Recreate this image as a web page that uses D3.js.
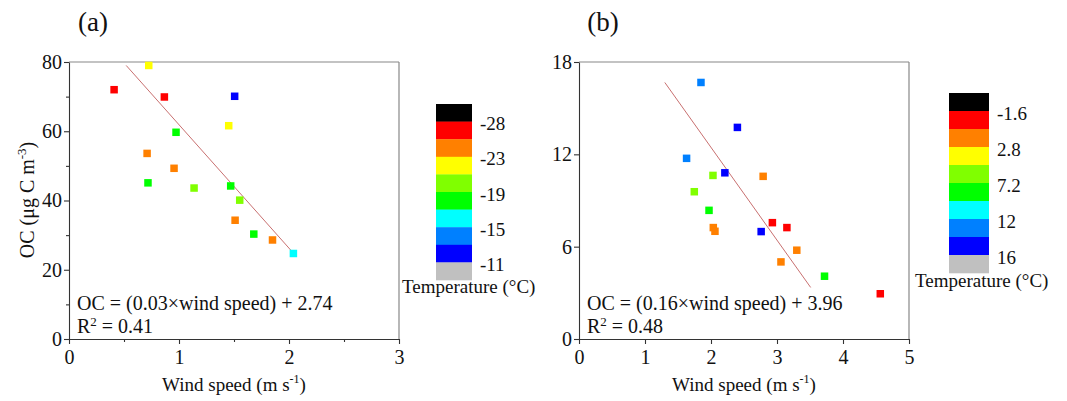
<!DOCTYPE html>
<html><head><meta charset="utf-8">
<script src="https://cdn.jsdelivr.net/npm/d3@7"></script>
<style>body{margin:0;background:#fff}svg{display:block}text{font-family:"Liberation Serif","Times New Roman",serif;fill:#111}</style>
</head><body>
<svg id="c" width="1067" height="401"></svg>
<script>
const legendColors = ["#000000","#ff0000","#ff8000","#ffff00","#80ff00","#00ff00","#00ffff","#0080ff","#0000ff","#c0c0c0"];
const tempLabelsA = ["-28","-23","-19","-15","-11"];
const tempLabelsB = ["-1.6","2.8","7.2","12","16"];

const windA = [0.725,0.41,0.867,1.506,1.452,0.973,0.71,0.955,0.718,1.137,1.47,1.552,1.51,1.68,1.85,2.04];
const ocA   = [79.0,72.0,69.9,70.1,61.6,59.7,53.6,49.3,45.1,43.6,44.2,40.1,34.3,30.3,28.6,24.7];
const binA  = [3,1,1,8,3,5,2,2,5,4,5,4,2,5,2,6];
const fitWindA = [0.52,2.015], fitOcA = [79.0,25.7];
const xTicksA = [0,1,2,3], xMinorA = [0.5,1.5,2.5];
const yTicksA = [0,20,40,60,80], yMinorA = [10,30,50,70];

const windB = [1.848,2.40,1.63,2.21,2.03,2.79,1.747,1.97,2.93,3.15,2.76,2.035,2.06,3.30,3.06,3.72,4.565];
const ocB   = [16.67,13.75,11.74,10.80,10.63,10.57,9.57,8.36,7.56,7.24,6.98,7.24,7.0,5.77,5.01,4.08,2.94];
const binB  = [7,8,7,8,4,2,4,5,1,1,8,2,2,2,2,5,1];
const fitWindB = [1.30,3.51], fitOcB = [16.67,3.35];
const xTicksB = [0,1,2,3,4,5];
const yTicksB = [0,6,12,18];

const svg = d3.select("#c");

function panel(o){
  const x = d3.scaleLinear().domain(o.xd).range([o.l,o.r]);
  const y = d3.scaleLinear().domain(o.yd).range([o.b,o.t]);
  const g = svg.append("g");
  g.append("line").attr("x1",o.l).attr("x2",o.r).attr("y1",o.t).attr("y2",o.t).attr("stroke","#888").attr("stroke-width",1.2);
  g.append("line").attr("x1",o.r).attr("x2",o.r).attr("y1",o.t).attr("y2",o.b).attr("stroke","#888").attr("stroke-width",1.2);
  const ax = g.append("g").attr("transform",`translate(0,${o.b})`)
    .call(d3.axisBottom(x).tickValues(o.xt).tickSize(5).tickSizeOuter(0).tickPadding(4).tickFormat(d3.format("d")));
  if(o.xm) g.append("g").attr("transform",`translate(0,${o.b})`).call(d3.axisBottom(x).tickValues(o.xm).tickSize(3).tickFormat("")).select(".domain").remove();
  g.append("g").attr("transform",`translate(${o.l},0)`)
    .call(d3.axisLeft(y).tickValues(o.yt).tickSize(5).tickSizeOuter(0).tickPadding(2).tickFormat(d3.format("d")));
  if(o.ym) g.append("g").attr("transform",`translate(${o.l},0)`).call(d3.axisLeft(y).tickValues(o.ym).tickSize(3).tickFormat("")).select(".domain").remove();
  g.selectAll(".tick line,.domain").attr("stroke","#333").attr("stroke-width",1.1);
  g.selectAll(".tick text").attr("font-size",20).attr("fill","#111").style("font-family","Liberation Serif");
  ax.selectAll(".tick text").attr("dy","0.8em");
  g.append("line").attr("x1",x(o.fx[0])).attr("y1",y(o.fy[0])).attr("x2",x(o.fx[1])).attr("y2",y(o.fy[1]))
    .attr("stroke","#c87070").attr("stroke-width",1);
  const s = 7.5;
  g.selectAll("rect.pt").data(o.xs.map((d,i)=>i)).enter().append("rect").attr("class","pt")
    .attr("x",i=>x(o.xs[i])-s/2).attr("y",i=>y(o.ys[i])-s/2).attr("width",s).attr("height",s)
    .attr("fill",i=>legendColors[o.bins[i]]);
  g.append("text").attr("x",o.l+8).attr("y",o.b-29).attr("font-size",20).text(o.eq);
  const r = g.append("text").attr("x",o.l+8).attr("y",o.b-6).attr("font-size",20);
  r.append("tspan").text("R");
  r.append("tspan").attr("font-size",13).attr("dy",-7).text("2");
  r.append("tspan").attr("dy",7).text(" = "+o.r2);
  svg.append("text").attr("x",o.l+24).attr("y",31).attr("text-anchor","middle").attr("font-size",27).text(o.label);
  const xt = svg.append("text").attr("x",(o.l+o.r)/2).attr("y",391).attr("text-anchor","middle").attr("font-size",19);
  xt.append("tspan").text("Wind speed (m s");
  xt.append("tspan").attr("font-size",12).attr("dy",-8).text("-1");
  xt.append("tspan").attr("dy",8).text(")");
  const bh = (o.lb-o.lt)/legendColors.length;
  const lg = svg.append("g");
  lg.selectAll("rect").data(legendColors).enter().append("rect")
    .attr("x",o.lx).attr("y",(d,i)=>o.lt+i*bh).attr("width",o.lw).attr("height",bh+0.3).attr("fill",d=>d);
  lg.selectAll("text.lab").data(o.tl).enter().append("text").attr("class","lab")
    .attr("x",o.lx+o.lw+8).attr("y",(d,i)=>o.lt+(2*i+1)*bh+2).attr("dy","0.35em").attr("font-size",19).text(d=>d);
  lg.append("text").attr("x",o.lx-34).attr("y",o.lb+o.tb).attr("font-size",19).text("Temperature (\u00B0C)");
}

panel({xd:[0,3],yd:[0,80],l:69,r:399,t:62,b:339,xt:xTicksA,xm:xMinorA,yt:yTicksA,ym:yMinorA,
  xs:windA,ys:ocA,bins:binA,fx:fitWindA,fy:fitOcA,eq:"OC = (0.03\u00D7wind speed) + 2.74",r2:"0.41",label:"(a)",
  lx:436,lw:36,lt:104,lb:280,tl:tempLabelsA,tb:13});
panel({xd:[0,5],yd:[0,18],l:579,r:909,t:62,b:339,xt:xTicksB,yt:yTicksB,
  xs:windB,ys:ocB,bins:binB,fx:fitWindB,fy:fitOcB,eq:"OC = (0.16\u00D7wind speed) + 3.96",r2:"0.48",label:"(b)",
  lx:949,lw:40,lt:93,lb:273,tl:tempLabelsB,tb:14});

const yt = svg.append("text").attr("transform","translate(34,200) rotate(-90)").attr("text-anchor","middle").attr("font-size",20);
yt.append("tspan").text("OC (\u03BCg C m");
yt.append("tspan").attr("font-size",13).attr("dy",-8).text("-3");
yt.append("tspan").attr("dy",8).text(")");
</script>
</body></html>
